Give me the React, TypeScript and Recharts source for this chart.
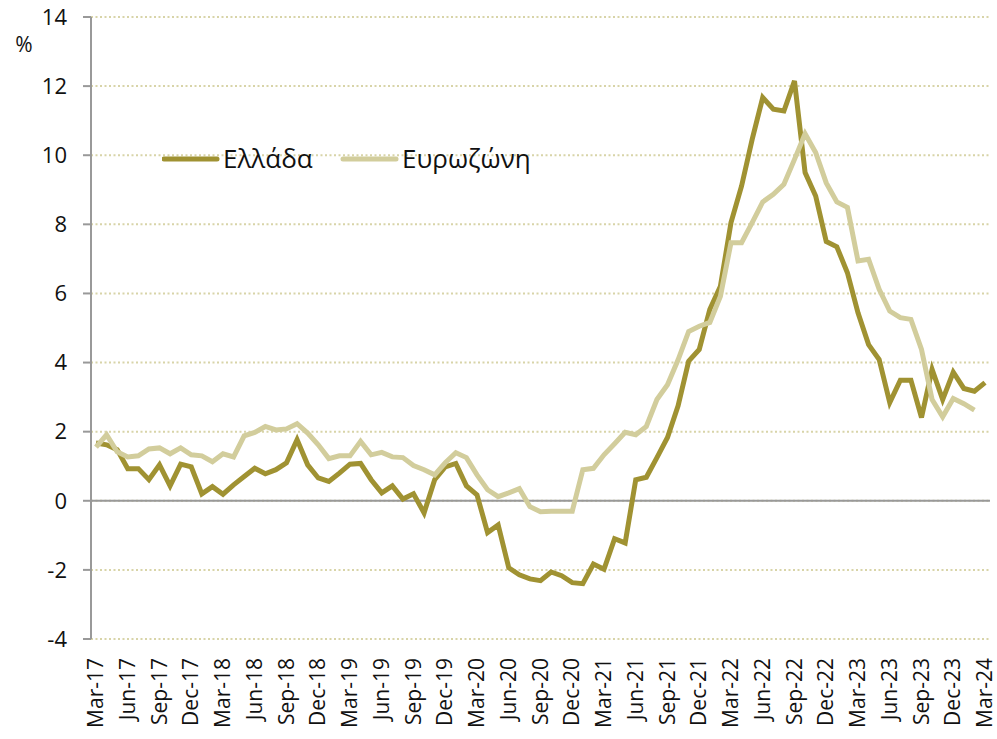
import React from 'react';
import { LineChart, Line, XAxis, YAxis, CartesianGrid, ReferenceLine, Legend } from 'recharts';

const months: string[] = [
  'Mar-17','Apr-17','May-17','Jun-17','Jul-17','Aug-17','Sep-17','Oct-17','Nov-17','Dec-17','Jan-18','Feb-18',
  'Mar-18','Apr-18','May-18','Jun-18','Jul-18','Aug-18','Sep-18','Oct-18','Nov-18','Dec-18','Jan-19','Feb-19',
  'Mar-19','Apr-19','May-19','Jun-19','Jul-19','Aug-19','Sep-19','Oct-19','Nov-19','Dec-19','Jan-20','Feb-20',
  'Mar-20','Apr-20','May-20','Jun-20','Jul-20','Aug-20','Sep-20','Oct-20','Nov-20','Dec-20','Jan-21','Feb-21',
  'Mar-21','Apr-21','May-21','Jun-21','Jul-21','Aug-21','Sep-21','Oct-21','Nov-21','Dec-21','Jan-22','Feb-22',
  'Mar-22','Apr-22','May-22','Jun-22','Jul-22','Aug-22','Sep-22','Oct-22','Nov-22','Dec-22','Jan-23','Feb-23',
  'Mar-23','Apr-23','May-23','Jun-23','Jul-23','Aug-23','Sep-23','Oct-23','Nov-23','Dec-23','Jan-24','Feb-24',
  'Mar-24',
];

const greece: (number | null)[] = [
  1.67, 1.62, 1.48, 0.93, 0.93, 0.61, 1.04, 0.43, 1.06, 0.98, 0.2, 0.41,
  0.19, 0.46, 0.7, 0.94, 0.78, 0.9, 1.1, 1.77, 1.04, 0.66, 0.56, 0.8,
  1.06, 1.08, 0.61, 0.23, 0.43, 0.05, 0.2, -0.35, 0.61, 0.98, 1.08, 0.43,
  0.17, -0.92, -0.7, -1.94, -2.14, -2.26, -2.31, -2.06, -2.17, -2.37, -2.4, -1.83,
  -1.98, -1.1, -1.22, 0.61, 0.68, 1.25, 1.83, 2.75, 4.04, 4.38, 5.54, 6.21,
  8.05, 9.11, 10.46, 11.67, 11.33, 11.28, 12.15, 9.5, 8.82, 7.5, 7.35, 6.6,
  5.44, 4.52, 4.09, 2.84, 3.49, 3.49, 2.41, 3.8, 2.93, 3.72, 3.25, 3.17,
  3.42,
];

const eurozone: (number | null)[] = [
  1.55, 1.91, 1.42, 1.27, 1.3, 1.5, 1.53, 1.36, 1.53, 1.33, 1.3, 1.13,
  1.36, 1.27, 1.88, 1.98, 2.15, 2.05, 2.08, 2.23, 1.96, 1.62, 1.22, 1.3,
  1.3, 1.72, 1.33, 1.4, 1.27, 1.25, 1.02, 0.9, 0.75, 1.1, 1.39, 1.25,
  0.75, 0.32, 0.12, 0.23, 0.35, -0.17, -0.32, -0.3, -0.3, -0.3, 0.9, 0.94,
  1.33, 1.65, 1.98, 1.91, 2.15, 2.93, 3.36, 4.08, 4.9, 5.05, 5.16, 5.92,
  7.47, 7.47, 8.05, 8.65, 8.87, 9.16, 9.88, 10.62, 10.08, 9.2, 8.65, 8.49,
  6.94, 6.99, 6.12, 5.49, 5.3, 5.25, 4.38, 2.93, 2.43, 2.96, 2.81, 2.62,
  null,
];

const yTicks: number[] = [-4, -2, 0, 2, 4, 6, 8, 10, 12, 14];

const seriesNames = { greece: 'Ελλάδα', eurozone: 'Ευρωζώνη' };

const data = months.map((m, i) => ({ month: m, greece: greece[i], eurozone: eurozone[i] }));

const FONT = '"Open Sans", "Noto Sans", sans-serif';
const GREECE_COLOR = '#A09232';
const EZ_COLOR = '#D2CD9C';
const GRID_COLOR = '#D8D4A8';
const AXIS_COLOR = '#999999';

const XTick = (props: any) => {
  const { x, y, payload } = props;
  return (
    <text
      x={x}
      y={y}
      transform={`rotate(-90, ${x}, ${y})`}
      textAnchor="end"
      dy="0.34em"
      fontSize={21}
      fontFamily={FONT}
      fill="#111"
    >
      {payload.value}
    </text>
  );
};

const LegendContent = () => (
  <svg width={420} height={40} style={{ display: 'block' }}>
    <line x1={2} x2={55} y1={20} y2={20} stroke={GREECE_COLOR} strokeWidth={5} strokeLinecap="round" />
    <text x={61} y={20} dy="0.35em" fontSize={26} fontFamily={FONT} fill="#111">{seriesNames.greece}</text>
    <line x1={181} x2={234} y1={20} y2={20} stroke={EZ_COLOR} strokeWidth={5} strokeLinecap="round" />
    <text x={240} y={20} dy="0.35em" fontSize={26} fontFamily={FONT} fill="#111">{seriesNames.eurozone}</text>
  </svg>
);

const PctLabel = () => (
  <text x={24} y={45} dy="0.35em" textAnchor="middle" fontSize={21} fontFamily={FONT} fill="#111">%</text>
);

export default function App() {
  return (
    <div style={{ position: 'absolute', left: 0, top: 0, width: 997, height: 739, background: '#fff' }}>
      <LineChart
        width={997}
        height={739}
        data={data}
        margin={{ top: 17, right: 7, bottom: 0, left: 0 }}
      >
        <CartesianGrid
          vertical={false}
          stroke={GRID_COLOR}
          strokeWidth={2}
          strokeDasharray="2 2.5"
        />
        <XAxis
          dataKey="month"
          interval={2}
          axisLine={false}
          tickLine={false}
          tickSize={0}
          tickMargin={19}
          height={100}
          padding={{ left: 5, right: 5 }}
          tick={<XTick />}
        />
        <YAxis
          domain={[-4, 14]}
          ticks={yTicks}
          width={91}
          tickSize={8}
          tickMargin={16}
          axisLine={{ stroke: AXIS_COLOR, strokeWidth: 2 }}
          tickLine={{ stroke: AXIS_COLOR, strokeWidth: 2 }}
          tick={{ fill: '#111', fontSize: 22, fontFamily: FONT }}
          label={{ content: PctLabel }}
        />
        <ReferenceLine y={0} stroke={AXIS_COLOR} strokeWidth={2} />
        <Line
          type="linear"
          dataKey="greece"
          name={seriesNames.greece}
          stroke={GREECE_COLOR}
          strokeWidth={5}
          dot={false}
          isAnimationActive={false}
        />
        <Line
          type="linear"
          dataKey="eurozone"
          name={seriesNames.eurozone}
          stroke={EZ_COLOR}
          strokeWidth={5}
          dot={false}
          isAnimationActive={false}
        />
        <Legend
          layout="horizontal"
          verticalAlign="middle"
          align="center"
          content={<LegendContent />}
          wrapperStyle={{ position: 'absolute', left: 162, top: 139, width: 420, height: 40 }}
        />
      </LineChart>
    </div>
  );
}
